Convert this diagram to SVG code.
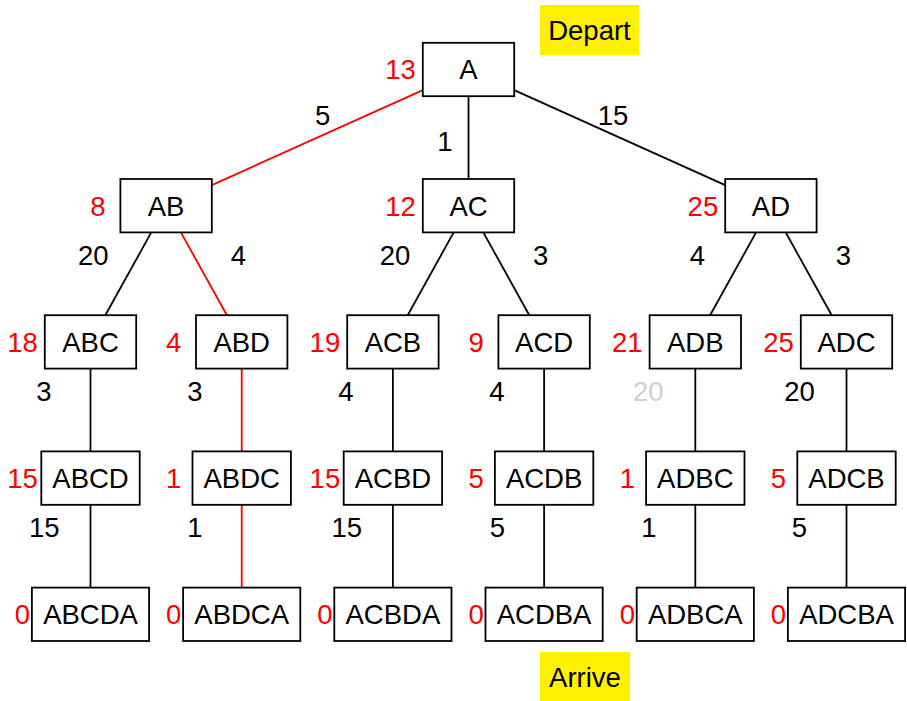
<svg xmlns="http://www.w3.org/2000/svg" width="907" height="701" viewBox="0 0 907 701">
  <style>
    text { font-family: "Liberation Sans", Arial, sans-serif; font-size: 27.5px; text-anchor: middle; fill: #000; }
    .box { fill: #fff; stroke: #000; stroke-width: 1.8; }
    .tag { fill: #fff000; stroke: none; }
    .edge { stroke: #000; stroke-width: 1.8; fill: none; }
    .path { stroke: #ff0000; }
    .h { fill: #ff0000; }
    .dim { fill: #d0d0d0; }
  </style>

  <!-- connectors: centre-to-centre lines clipped at the box borders -->
  <g id="connectors">
    <line class="edge path" x1="422.8" y1="90.1" x2="211.8" y2="185.1"/>
    <line class="edge" x1="468.5" y1="96.2" x2="468.5" y2="179"/>
    <line class="edge" x1="514.2" y1="90.1" x2="725.2" y2="185.1"/>

    <line class="edge" x1="151.3" y1="232.4" x2="105.3" y2="315.2"/>
    <line class="edge path" x1="180.9" y1="232.4" x2="226.9" y2="315.2"/>
    <line class="edge" x1="453.7" y1="232.4" x2="407.7" y2="315.2"/>
    <line class="edge" x1="483.3" y1="232.4" x2="529.3" y2="315.2"/>
    <line class="edge" x1="756.1" y1="232.4" x2="710.1" y2="315.2"/>
    <line class="edge" x1="785.7" y1="232.4" x2="831.7" y2="315.2"/>

    <line class="edge" x1="90.5" y1="368.6" x2="90.5" y2="451.4"/>
    <line class="edge path" x1="241.7" y1="368.6" x2="241.7" y2="451.4"/>
    <line class="edge" x1="392.9" y1="368.6" x2="392.9" y2="451.4"/>
    <line class="edge" x1="544.1" y1="368.6" x2="544.1" y2="451.4"/>
    <line class="edge" x1="695.3" y1="368.6" x2="695.3" y2="451.4"/>
    <line class="edge" x1="846.5" y1="368.6" x2="846.5" y2="451.4"/>

    <line class="edge" x1="90.5" y1="504.8" x2="90.5" y2="587.6"/>
    <line class="edge path" x1="241.7" y1="504.8" x2="241.7" y2="587.6"/>
    <line class="edge" x1="392.9" y1="504.8" x2="392.9" y2="587.6"/>
    <line class="edge" x1="544.1" y1="504.8" x2="544.1" y2="587.6"/>
    <line class="edge" x1="695.3" y1="504.8" x2="695.3" y2="587.6"/>
    <line class="edge" x1="846.5" y1="504.8" x2="846.5" y2="587.6"/>

    <!-- edge weights -->
    <text x="322.7" y="124.7">5</text>
    <text x="445" y="150.7">1</text>
    <text x="613" y="125">15</text>

    <text x="93.3" y="264.7">20</text>
    <text x="238.3" y="264.7">4</text>
    <text x="395" y="264.7">20</text>
    <text x="540.7" y="264.7">3</text>
    <text x="697.3" y="264.7">4</text>
    <text x="843.3" y="264.7">3</text>

    <text x="44" y="400.5">3</text>
    <text x="195" y="400.5">3</text>
    <text x="346" y="400.5">4</text>
    <text x="497" y="400.5">4</text>
    <text class="dim" x="648.3" y="400.5">20</text>
    <text x="799.5" y="400.5">20</text>

    <text x="44.3" y="537">15</text>
    <text x="195" y="537">1</text>
    <text x="346.7" y="537">15</text>
    <text x="497.3" y="537">5</text>
    <text x="649" y="537">1</text>
    <text x="799.3" y="537">5</text>
  </g>

  <!-- start / finish markers -->
  <g id="depart">
    <rect class="tag" x="540" y="5" width="99" height="50"/>
    <text x="589.5" y="39.7">Depart</text>
  </g>
  <g id="arrive">
    <rect class="tag" x="540" y="652" width="90" height="50"/>
    <text x="585" y="686.7">Arrive</text>
  </g>

  <!-- level 0 -->
  <g id="n-A">
    <rect class="box" x="422.8" y="42.8" width="91.4" height="53.4"/>
    <text x="468.5" y="79.4">A</text>
    <text class="h" x="400.5" y="79.4">13</text>
  </g>

  <!-- level 1 -->
  <g id="n-AB">
    <rect class="box" x="120.4" y="179" width="91.4" height="53.4"/>
    <text x="166.1" y="215.6">AB</text>
    <text class="h" x="98" y="215.6">8</text>
  </g>
  <g id="n-AC">
    <rect class="box" x="422.8" y="179" width="91.4" height="53.4"/>
    <text x="468.5" y="215.6">AC</text>
    <text class="h" x="400.5" y="215.6">12</text>
  </g>
  <g id="n-AD">
    <rect class="box" x="725.2" y="179" width="91.4" height="53.4"/>
    <text x="770.9" y="215.6">AD</text>
    <text class="h" x="702.9" y="215.6">25</text>
  </g>

  <!-- level 2 -->
  <g id="n-ABC">
    <rect class="box" x="44.8" y="315.2" width="91.4" height="53.4"/>
    <text x="90.5" y="351.8">ABC</text>
    <text class="h" x="22.5" y="351.8">18</text>
  </g>
  <g id="n-ABD">
    <rect class="box" x="196" y="315.2" width="91.4" height="53.4"/>
    <text x="241.7" y="351.8">ABD</text>
    <text class="h" x="173.7" y="351.8">4</text>
  </g>
  <g id="n-ACB">
    <rect class="box" x="347.2" y="315.2" width="91.4" height="53.4"/>
    <text x="392.9" y="351.8">ACB</text>
    <text class="h" x="324.9" y="351.8">19</text>
  </g>
  <g id="n-ACD">
    <rect class="box" x="498.4" y="315.2" width="91.4" height="53.4"/>
    <text x="544.1" y="351.8">ACD</text>
    <text class="h" x="476.1" y="351.8">9</text>
  </g>
  <g id="n-ADB">
    <rect class="box" x="649.6" y="315.2" width="91.4" height="53.4"/>
    <text x="695.3" y="351.8">ADB</text>
    <text class="h" x="627.3" y="351.8">21</text>
  </g>
  <g id="n-ADC">
    <rect class="box" x="800.8" y="315.2" width="91.4" height="53.4"/>
    <text x="846.5" y="351.8">ADC</text>
    <text class="h" x="778.5" y="351.8">25</text>
  </g>

  <!-- level 3 -->
  <g id="n-ABCD">
    <rect class="box" x="41.3" y="451.4" width="98.4" height="53.4"/>
    <text x="90.5" y="488">ABCD</text>
    <text class="h" x="22.5" y="488">15</text>
  </g>
  <g id="n-ABDC">
    <rect class="box" x="192.5" y="451.4" width="98.4" height="53.4"/>
    <text x="241.7" y="488">ABDC</text>
    <text class="h" x="173.7" y="488">1</text>
  </g>
  <g id="n-ACBD">
    <rect class="box" x="343.7" y="451.4" width="98.4" height="53.4"/>
    <text x="392.9" y="488">ACBD</text>
    <text class="h" x="324.9" y="488">15</text>
  </g>
  <g id="n-ACDB">
    <rect class="box" x="494.9" y="451.4" width="98.4" height="53.4"/>
    <text x="544.1" y="488">ACDB</text>
    <text class="h" x="476.1" y="488">5</text>
  </g>
  <g id="n-ADBC">
    <rect class="box" x="646.1" y="451.4" width="98.4" height="53.4"/>
    <text x="695.3" y="488">ADBC</text>
    <text class="h" x="627.3" y="488">1</text>
  </g>
  <g id="n-ADCB">
    <rect class="box" x="797.3" y="451.4" width="98.4" height="53.4"/>
    <text x="846.5" y="488">ADCB</text>
    <text class="h" x="778.5" y="488">5</text>
  </g>

  <!-- level 4: complete tours -->
  <g id="n-ABCDA">
    <rect class="box" x="31.9" y="587.6" width="117.2" height="53.4"/>
    <text x="90.5" y="624.2">ABCDA</text>
    <text class="h" x="22.5" y="624.2">0</text>
  </g>
  <g id="n-ABDCA">
    <rect class="box" x="183.1" y="587.6" width="117.2" height="53.4"/>
    <text x="241.7" y="624.2">ABDCA</text>
    <text class="h" x="173.7" y="624.2">0</text>
  </g>
  <g id="n-ACBDA">
    <rect class="box" x="334.3" y="587.6" width="117.2" height="53.4"/>
    <text x="392.9" y="624.2">ACBDA</text>
    <text class="h" x="324.9" y="624.2">0</text>
  </g>
  <g id="n-ACDBA">
    <rect class="box" x="485.5" y="587.6" width="117.2" height="53.4"/>
    <text x="544.1" y="624.2">ACDBA</text>
    <text class="h" x="476.1" y="624.2">0</text>
  </g>
  <g id="n-ADBCA">
    <rect class="box" x="636.7" y="587.6" width="117.2" height="53.4"/>
    <text x="695.3" y="624.2">ADBCA</text>
    <text class="h" x="627.3" y="624.2">0</text>
  </g>
  <g id="n-ADCBA">
    <rect class="box" x="787.9" y="587.6" width="117.2" height="53.4"/>
    <text x="846.5" y="624.2">ADCBA</text>
    <text class="h" x="778.5" y="624.2">0</text>
  </g>
</svg>
